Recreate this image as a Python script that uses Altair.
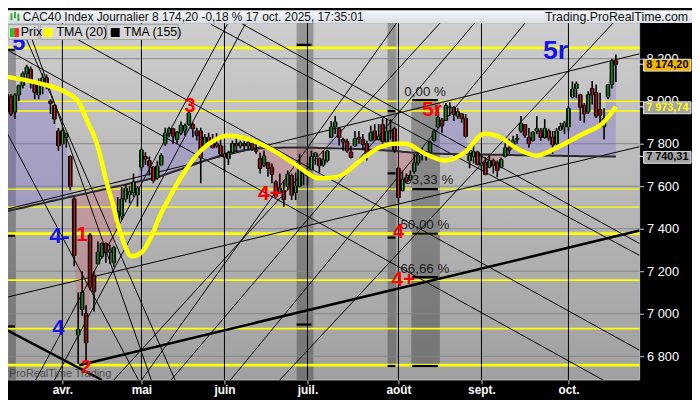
import altair as alt
import pandas as pd

# ---------------- data ----------------
opens = [8100, 8030, 7950, 8020, 7950, 8030, 8075, 8130, 8150, 8080,
         8030, 8090, 8110, 8000, 7980, 7860, 7800, 7830, 7740, 7540,
         6900, 7020, 7000, 7370, 7180, 7235, 7270, 7330, 7290, 7240,
         7420, 7460, 7540, 7560, 7570, 7560, 7690, 7740, 7720, 7690,
         7640, 7700, 7800, 7850, 7870, 7820, 7850, 7860, 7890, 7890,
         7860, 7860, 7790, 7830, 7810, 7800, 7790, 7750, 7730, 7760,
         7800, 7790, 7800, 7790, 7800, 7770, 7730, 7700, 7710, 7690,
         7620, 7570, 7580, 7600, 7650, 7570, 7600, 7680, 7650, 7680,
         7740, 7730, 7700, 7720, 7830, 7880, 7870, 7820, 7810, 7760,
         7790, 7830, 7820, 7800, 7815, 7860, 7820, 7890, 7810, 7860,
         7870, 7684, 7580, 7640, 7630, 7670, 7710, 7750, 7760, 7760,
         7815, 7880, 7910, 7910, 7970, 7970, 7930, 7940, 7920, 7720,
         7740, 7760, 7700, 7710, 7690, 7720, 7710, 7690, 7740, 7780,
         7780, 7820, 7860, 7890, 7830, 7815, 7860, 7860, 7830, 7860,
         7830, 7800, 7865, 7880, 7880, 8020, 8060, 8030, 7980, 7950,
         8060, 8040, 7960, 7880, 8020, 8080, 8190]
highs = [8130, 8102, 8050, 8033, 8037, 8079, 8140, 8172, 8163, 8093,
         8107, 8130, 8126, 8009, 7986, 7874, 7870, 7851, 7744, 7550,
         7100, 7200, 7040, 7380, 7200, 7340, 7335, 7335, 7325, 7320,
         7549, 7595, 7610, 7600, 7660, 7600, 7777, 7760, 7740, 7695,
         7720, 7755, 7875, 7880, 7875, 7860, 7905, 7895, 7950, 7900,
         7875, 7875, 7846, 7851, 7846, 7850, 7828, 7790, 7767, 7814,
         7828, 7814, 7814, 7814, 7805, 7800, 7758, 7767, 7715, 7707,
         7628, 7660, 7628, 7674, 7660, 7665, 7753, 7688, 7712, 7767,
         7760, 7735, 7767, 7770, 7907, 7930, 7874, 7828, 7823, 7790,
         7860, 7860, 7846, 7814, 7884, 7893, 7893, 7921, 7921, 7915,
         7880, 7690, 7674, 7660, 7674, 7753, 7758, 7781, 7767, 7814,
         7870, 7967, 7921, 7991, 7995, 7977, 7967, 7944, 7940, 7767,
         7814, 7767, 7744, 7735, 7744, 7730, 7721, 7735, 7805, 7823,
         7837, 7846, 7930, 7893, 7874, 7860, 7930, 7874, 7916, 7870,
         7860, 7874, 7898, 7907, 7977, 8093, 8093, 8035, 7991, 8047,
         8095, 8079, 8040, 7967, 8079, 8200, 8220]
lows = [8030, 7921, 7916, 7930, 7916, 8000, 8060, 8093, 8060, 8009,
        8009, 8033, 8056, 7940, 7893, 7767, 7795, 7781, 7581, 7223,
        6764, 6990, 6780, 7110, 7010, 7233, 7260, 7240, 7235, 7220,
        7395, 7442, 7525, 7520, 7550, 7505, 7674, 7700, 7650, 7614,
        7630, 7695, 7790, 7830, 7800, 7800, 7840, 7837, 7884, 7830,
        7815, 7614, 7780, 7800, 7778, 7780, 7744, 7665, 7700, 7753,
        7760, 7778, 7772, 7772, 7767, 7753, 7660, 7690, 7645, 7614,
        7549, 7567, 7502, 7581, 7535, 7535, 7595, 7605, 7605, 7674,
        7700, 7665, 7690, 7712, 7828, 7846, 7791, 7767, 7758, 7730,
        7785, 7800, 7770, 7721, 7810, 7814, 7815, 7800, 7805, 7820,
        7758, 7521, 7575, 7614, 7625, 7660, 7698, 7721, 7721, 7755,
        7810, 7874, 7851, 7907, 7930, 7907, 7916, 7898, 7828, 7684,
        7707, 7698, 7674, 7651, 7684, 7660, 7642, 7685, 7735, 7753,
        7775, 7800, 7851, 7828, 7781, 7810, 7846, 7814, 7823, 7814,
        7753, 7795, 7860, 7846, 7860, 8014, 8014, 7907, 7898, 7940,
        7985, 7921, 7880, 7820, 8010, 8060, 8090]
closes = [8047, 7941, 8030, 7940, 8028, 8073, 8130, 8160, 8090, 8042,
          8090, 8109, 8070, 7990, 7916, 7790, 7860, 7845, 7598, 7274,
          6927, 7100, 6863, 7126, 7104, 7290, 7330, 7290, 7300, 7310,
          7480, 7540, 7590, 7573, 7620, 7590, 7770, 7728, 7696, 7626,
          7694, 7743, 7850, 7870, 7836, 7853, 7887, 7884, 7944, 7870,
          7840, 7734, 7828, 7810, 7782, 7790, 7751, 7737, 7755, 7800,
          7790, 7804, 7791, 7804, 7775, 7765, 7684, 7742, 7684, 7656,
          7553, 7590, 7537, 7656, 7558, 7600, 7692, 7666, 7662, 7738,
          7756, 7696, 7723, 7765, 7878, 7902, 7829, 7808, 7766, 7735,
          7823, 7822, 7798, 7744, 7851, 7818, 7834, 7810, 7857, 7861,
          7771, 7546, 7632, 7621, 7650, 7709, 7743, 7761, 7754, 7805,
          7858, 7923, 7884, 7979, 7973, 7938, 7950, 7918, 7835, 7743,
          7762, 7703, 7708, 7655, 7719, 7698, 7674, 7725, 7780, 7770,
          7815, 7825, 7896, 7840, 7800, 7854, 7870, 7830, 7872, 7827,
          7795, 7860, 7880, 7896, 7966, 8056, 8081, 7971, 7940, 8030,
          8030, 7930, 7934, 7919, 8077, 8188, 8174.2]
tma155 = [7474, 7478, 7482, 7487, 7491, 7495, 7499, 7503, 7508, 7512,
          7516, 7520, 7524, 7529, 7533, 7537, 7541, 7545, 7550, 7554,
          7558, 7562, 7566, 7571, 7575, 7579, 7583, 7587, 7592, 7596,
          7600, 7604, 7608, 7613, 7617, 7621, 7625, 7629, 7634, 7638,
          7642, 7648, 7655, 7661, 7668, 7674, 7680, 7687, 7693, 7700,
          7706, 7712, 7719, 7725, 7732, 7738, 7745, 7751, 7758, 7761,
          7764, 7766, 7769, 7772, 7774, 7777, 7778, 7779, 7780, 7780,
          7781, 7781, 7782, 7782, 7782, 7782, 7782, 7782, 7781, 7781,
          7781, 7780, 7780, 7779, 7779, 7778, 7778, 7777, 7777, 7776,
          7775, 7775, 7774, 7773, 7772, 7771, 7770, 7769, 7768, 7767,
          7766, 7764, 7762, 7761, 7759, 7758, 7757, 7756, 7755, 7754,
          7754, 7753, 7753, 7752, 7752, 7752, 7751, 7751, 7751, 7750,
          7750, 7750, 7749, 7749, 7749, 7748, 7748, 7748, 7747, 7747,
          7747, 7746, 7746, 7746, 7745, 7745, 7745, 7744, 7744, 7744,
          7743, 7743, 7743, 7742, 7742, 7742, 7742, 7741, 7741, 7741,
          7741, 7741, 7740, 7740, 7740, 7740, 7740.31]
days = list(range(len(closes)))

tma20_day = [0.25, 10.25, 17, 20.25, 22.25, 24.5, 27.75, 28.5, 29.75, 31.5, 33.5,
             36, 38.5, 41, 42.75, 46, 51, 54.25, 57.75, 62.75, 69.5, 75.25, 81,
             85.25, 92, 96, 100.25, 102.75, 107.75, 112.75, 117.75, 122.75, 126,
             131, 136, 141, 147.75, 152.75, 156]
tma20_val = [8120, 8084, 8040, 7993, 7907, 7814, 7581, 7535, 7442, 7335, 7270,
             7288, 7363, 7474, 7535, 7642, 7767, 7814, 7837, 7823, 7767, 7698, 7637,
             7642, 7730, 7781, 7800, 7800, 7753, 7721, 7758, 7847, 7837,
             7777, 7744, 7781, 7847, 7898, 7973.74]

month_first_day = [16, 36, 57, 78, 101, 122, 144]
month_names = ["avr.", "mai", "juin", "juil.", "août", "sept.", "oct."]
price_ticks = [6800, 7000, 7200, 7400, 7600, 7800, 8000, 8200]
# ticks whose labels sit under the last-value tags
covered_ticks = [8000, 8200]

yellow_major = [8251, 7377, 6758]
yellow_minor = [8000, 7953.5, 7158, 6930]
yellow_thin = [7586, 7502]

thick_lines = [(0.25, 6940, 26, 6688), (20.25, 6758, 162, 7391)]
thin_lines = [(0.25, 7484, 162, 8223), (0.25, 7070, 162, 7786),
              (12.75, 8363, 162, 6828), (53.5, 8363, 162, 7274),
              (61.5, 8363, 162, 7330), (0.25, 8260, 152.75, 6688),
              (7, 8363, 38.5, 6688), (0.25, 7912, 35.25, 6688),
              (5.25, 8363, 44.5, 6688), (36, 6688, 100.5, 8367),
              (43.5, 6688, 120.25, 8367), (58.5, 6688, 133, 8367),
              (71, 6688, 155.25, 8367), (9.25, 6688, 57.75, 8363),
              (14, 6688, 62.25, 8363), (29, 6688, 111.5, 8367)]

zone_from = [0.25, 75.25, 98.25, 104.25]
zone_to = [4.25, 79.5, 100.5, 111.5]
zone_top = [8242, 8400, 8400, 8005]
zone_bottom = [6600, 6600, 6754, 6754]

level_from = [104.5, 104.5, 104.5, 104.5, 104.5, 98.25, 98.25, 98.25, 98.25, 75.25, 75.25, 1, 1, 1]
level_to = [111, 111, 111, 111, 111, 100.25, 100.25, 100.25, 100.25, 79, 79, 4, 4, 4]
level_price = [8005, 7586, 7377, 7172, 6754, 7953, 7660, 7358, 6754, 8265, 6949, 8242, 7367, 6940]

fib_text = ["0,00 %", "33,33 %", "50,00 %", "66,66 %"]
fib_day = [102.5, 102.5, 101.5, 101.5]
fib_price = [8023, 7609, 7400, 7191]

wave_text = ["5", "5r", "3", "5r", "4+", "4-", "1", "4", "2", "4", "4+"]
wave_day = [5, 140.75, 48.25, 109.5, 68.5, 15.25, 21, 15, 22, 101, 102.25]
wave_price = [8242, 8200, 7949, 7930, 7535, 7335, 7340, 6898, 6721, 7358, 7130]
# styles of the wave labels (kept apart from the data)
wave_color = ["#1414e8", "#1414e8", "#ff0000", "#ff0000", "#ff0000", "#1414e8",
              "#ff0000", "#1414e8", "#ff0000", "#ff0000", "#ff0000"]
wave_size = [24, 27, 20, 21, 21, 23, 21, 22, 19, 20, 21]

last_close = 8174.20
last_tma20 = 7973.74
last_tma155 = 7740.31
change_pct = -0.18


def fr(v):
    return f"{v:,.2f}".replace(",", " ").replace(".", ",")


def fr0(v):
    return f"{v:,.0f}".replace(",", " ")


title_text = f"CAC40 Index Journalier {fr(last_close)} {fr(change_pct)} % 17 oct. 2025, 17:35:01"

# ---------------- chart ----------------
W, H = 639, 361
FONT = "Liberation Sans"
xs = alt.Scale(domain=[2.25, 162], nice=False, zero=False)
ys = alt.Scale(domain=[6688.4, 8367.4], nice=False, zero=False)

hide = " || ".join(f"datum.value == {v}" for v in covered_ticks)
x_axis = alt.Axis(
    values=month_first_day,
    labelExpr=" : ".join(f"datum.value == {d} ? '{n}'" for d, n in zip(month_first_day, month_names)) + " : ''",
    orient="bottom", domain=False, grid=False, ticks=True, tickColor="#d0d0d0", tickSize=4,
    labelColor="#ffffff", labelFont=FONT, labelFontSize=12, labelFontWeight="bold",
    labelPadding=1, labelFlush=False, title=None, zindex=0)
y_axis = alt.Axis(
    values=price_ticks, labelExpr=f"({hide}) ? '' : replace(format(datum.value, ','), ',', ' ')",
    orient="right", domain=False, grid=False, ticks=True, tickColor="#d0d0d0", tickSize=4,
    labelColor="#ffffff", labelFont=FONT, labelFontSize=13, labelPadding=3, title=None, zindex=0)


def X(f):
    return alt.X(f, type="quantitative", scale=xs, axis=x_axis)


def Y(f):
    return alt.Y(f, type="quantitative", scale=ys, axis=y_axis)


one = pd.DataFrame({"k": [0]})


def px_rect(x1, x2, y1, y2, **mark):
    return alt.Chart(one).mark_rect(**mark).encode(
        x=alt.value(x1), x2=alt.value(x2), y=alt.value(y1), y2=alt.value(y2))


def px_text(x, y, text, **mark):
    return alt.Chart(one).mark_text(**mark).encode(x=alt.value(x), y=alt.value(y), text=alt.value(text))


df = pd.DataFrame({"i": days, "o": opens, "h": highs, "l": lows, "c": closes, "t155": tma155})
df["x0"] = df["i"] - 0.45
df["x1"] = df["i"] + 0.45
df["blo"] = df[["o", "c"]].min(axis=1)
df["bhi"] = df[["o", "c"]].max(axis=1)
df["dir"] = ["up" if c >= o else "down" for o, c in zip(df["o"], df["c"])]
df["above"] = df[["c", "t155"]].max(axis=1)
df["below"] = df[["c", "t155"]].min(axis=1)

layers = []

# plot background gradient
layers.append(px_rect(0, W, 0, H, fill={
    "gradient": "linear", "x1": 0, "y1": 0, "x2": 0, "y2": 1,
    "stops": [{"offset": 0, "color": "#cdcdcd"}, {"offset": 1, "color": "#a0a0a0"}]},
    stroke="#b4bcc4", strokeWidth=1))

wick = alt.Chart(df).mark_rule(color="#000000", strokeWidth=1.6, clip=True).encode(
    x=X("i"), y=Y("l"), y2="h")

# darker zones
zones = pd.DataFrame({"a": zone_from, "b": zone_to, "t": zone_top, "u": zone_bottom})
layers.append(alt.Chart(zones).mark_rect(color="#000000", opacity=0.27, clip=True).encode(
    x=X("a"), x2="b", y=Y("t"), y2="u"))

# grid
layers.append(alt.Chart(pd.DataFrame({"p": price_ticks})).mark_rule(color="#878787", strokeWidth=1).encode(y=Y("p")))

# fill between price and TMA(155)
layers.append(alt.Chart(df).mark_area(color="#7f6fd0", opacity=0.35, clip=True).encode(
    x=X("i"), y=Y("above"), y2="t155"))
layers.append(alt.Chart(df).mark_area(color="#d06070", opacity=0.32, clip=True).encode(
    x=X("i"), y=Y("below"), y2="t155"))

# yellow horizontal levels
for levels, w in ((yellow_major, 2.6), (yellow_minor, 1.6), (yellow_thin, 1.2)):
    layers.append(alt.Chart(pd.DataFrame({"p": levels})).mark_rule(color="#ffff00", strokeWidth=w).encode(y=Y("p")))

# month separators
layers.append(alt.Chart(pd.DataFrame({"d": month_first_day})).mark_rule(color="#000000", strokeWidth=1).encode(x=X("d")))

# trend lines
for lines, w in ((thin_lines, 1), (thick_lines, 2.6)):
    ldf = pd.DataFrame(lines, columns=["a", "pa", "b", "pb"])
    layers.append(alt.Chart(ldf).mark_rule(color="#000000", strokeWidth=w, clip=True).encode(
        x=X("a"), y=Y("pa"), x2="b", y2="pb"))

# zone level dashes
lev = pd.DataFrame({"a": level_from, "b": level_to, "p": level_price})
layers.append(alt.Chart(lev).mark_rule(color="#000000", strokeWidth=2.2, clip=True).encode(
    x=X("a"), x2="b", y=Y("p")))

# fibonacci texts
fib = pd.DataFrame({"t": fib_text, "d": fib_day, "p": fib_price})
layers.append(alt.Chart(fib).mark_text(align="left", baseline="alphabetic", font=FONT, fontSize=13.5,
                                       color="#1c1c1c").encode(x=X("d"), y=Y("p"), text="t"))

# TMA(155)
layers.append(alt.Chart(df).mark_line(color="#2a2a2a", strokeWidth=2, clip=True).encode(x=X("i"), y=Y("t155")))

# candles
layers.append(wick)
layers.append(alt.Chart(df).mark_rect(color="#000000", stroke="#000000", strokeWidth=1, clip=True).encode(
    x=X("x0"), x2="x1", y=Y("blo"), y2="bhi"))
layers.append(alt.Chart(df).mark_rule(strokeWidth=1.1, clip=True).encode(
    x=X("i"), y=Y("o"), y2="c",
    color=alt.Color("dir:N", scale=alt.Scale(domain=["up", "down"], range=["#1ed21e", "#ff1e1e"]), legend=None)))

# TMA(20)
t20 = pd.DataFrame({"d": tma20_day, "v": tma20_val})
layers.append(alt.Chart(t20).mark_line(color="#ffff00", strokeWidth=4.5, interpolate="monotone", clip=True).encode(
    x=X("d"), y=Y("v")))

# wave labels
for t, d, p, col, sz in zip(wave_text, wave_day, wave_price, wave_color, wave_size):
    wdf = pd.DataFrame({"t": [t], "d": [d], "p": [p]})
    layers.append(alt.Chart(wdf).mark_text(align="center", baseline="alphabetic", font=FONT, fontWeight="bold",
                                           fontSize=sz, color=col, clip=True).encode(x=X("d"), y=Y("p"), text="t"))

# legend boxes
for a, b in ((0, 31), (33, 99), (100, 172)):
    layers.append(px_rect(a, b, 1.5, 16.5, fill="#d6d6d6", stroke="#a4a4a4", strokeWidth=1))
for a, b, c in ((2, 6.5, "#22c822"), (6.5, 11, "#ff2020"), (36, 45, "#ffff00"), (104, 113, "#000000")):
    layers.append(px_rect(a, b, 5, 14, fill=c))
for a, t in ((13, "Prix"), (49, "TMA (20)"), (117, "TMA (155)")):
    layers.append(px_text(a, 13.5, t, align="left", baseline="alphabetic", font=FONT, fontSize=12.5, color="#000000"))

# watermark
layers.append(px_text(1, 358, "ProRealTime Trading", align="left", baseline="alphabetic", font=FONT,
                      fontSize=11, color="#333333", opacity=0.75))

# title bar
layers.append(px_rect(0, 692, -13, 0, fill={
    "gradient": "linear", "x1": 0, "y1": 0, "x2": 0, "y2": 1,
    "stops": [{"offset": 0, "color": "#f5f7f9"}, {"offset": 1, "color": "#d9dfe6"}]}))
for a, t, u in ((2.5, -10, -3), (6, -11.5, -5), (9.5, -9.5, -2)):
    layers.append(px_rect(a, a + 2, t, u, fill="#3aa83a"))
layers.append(px_text(15, -2.5, title_text, align="left", baseline="alphabetic", font=FONT, fontSize=12,
                      color="#111111"))
layers.append(px_text(688, -2.5, "Trading.ProRealTime.com", align="right", baseline="alphabetic", font=FONT,
                      fontSize=12.5, color="#111111"))

# scale labels that the tags partly cover (drawn beneath the tags)
cov = pd.DataFrame({"p": covered_ticks, "t": [fr0(v) for v in covered_ticks]})
layers.append(alt.Chart(cov).mark_text(align="left", baseline="middle", font=FONT, fontSize=13,
                                       color="#ffffff").encode(x=alt.value(W + 7), y=Y("p"), text="t"))

# last-value tags on the right scale
tags = [(last_close, "#f2b400", "#000000"), (last_tma20, "#a3a3a3", "#ffff00"), (last_tma155, "#a3a3a3", "#000000")]
for v, bg, fg in tags:
    tdf = pd.DataFrame({"p": [v], "t": [fr(v)]})
    layers.append(alt.Chart(tdf).mark_rule(color="#ffffff", strokeWidth=1).encode(
        x=alt.value(W), x2=alt.value(W + 4), y=Y("p")))
    layers.append(alt.Chart(tdf).mark_rect(fill=bg, stroke="#e6e6e6", strokeWidth=1, yOffset=-5, y2Offset=7).encode(
        x=alt.value(W + 4), x2=alt.value(W + 52), y=Y("p"), y2="p"))
    layers.append(alt.Chart(tdf).mark_text(align="center", baseline="middle", dy=1, font=FONT, fontSize=11,
                                           fontWeight="bold", color=fg).encode(
        x=alt.value(W + 28), y=Y("p"), text="t"))

chart = alt.layer(*layers).properties(
    width=W, height=H,
    padding={"left": 0, "top": 13, "right": 53, "bottom": 18},
    background="#000000",
    autosize=alt.AutoSizeParams(type="none"),
).configure_view(strokeWidth=0)

chart.save("out.html", embed_options={"renderer": "svg", "actions": False})
